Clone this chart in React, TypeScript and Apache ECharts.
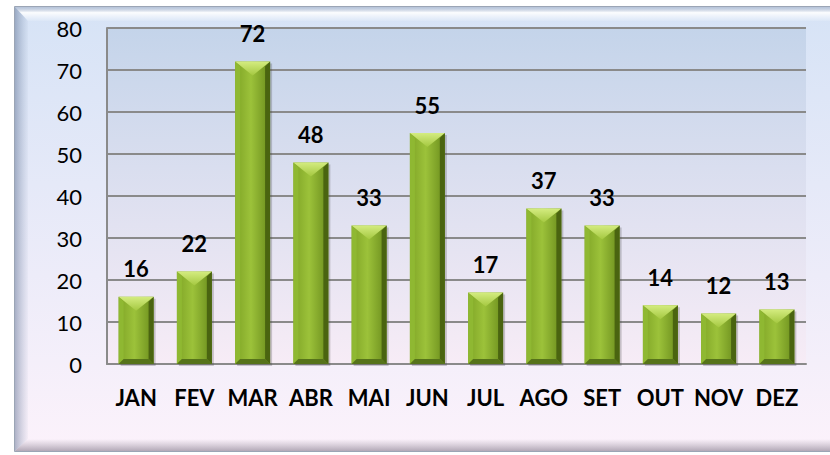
import React, { useEffect, useRef } from "react";
import * as echarts from "echarts";

const categories = ["JAN", "FEV", "MAR", "ABR", "MAI", "JUN", "JUL", "AGO", "SET", "OUT", "NOV", "DEZ"];
const values = [16, 22, 72, 48, 33, 55, 17, 37, 33, 14, 12, 13];
const yMin = 0;
const yMax = 80;
const yInterval = 10;

const FONT = "Lato, 'Open Sans', sans-serif";

export default function App() {
  const ref = useRef<HTMLDivElement>(null);
  useEffect(() => {
    document.body.style.margin = "0";
    const chart = echarts.init(ref.current!, null, { renderer: "svg" });
    const G = echarts.graphic;
    const option: any = {
      animation: false,
      graphic: [
        {
          type: "rect",
          z: -10,
          shape: { x: 14.5, y: 6.5, width: 860, height: 445 },
          style: {
            fill: new G.LinearGradient(0, 0, 0, 1, [
              { offset: 0, color: "#d6e3f6" },
              { offset: 1, color: "#fcf2fb" },
            ]),
            stroke: "#9ba5b5",
            lineWidth: 1,
          },
        },
        {
          type: "polygon",
          z: -9,
          shape: { points: [[15, 7], [860, 7], [860, 21], [28, 21]] },
          style: {
            fill: new G.LinearGradient(0, 0, 0, 1, [
              { offset: 0, color: "rgba(150,165,190,0.5)" },
              { offset: 0.4, color: "rgba(255,255,255,0.9)" },
              { offset: 1, color: "rgba(255,255,255,0.1)" },
            ]),
          },
        },
        {
          type: "polygon",
          z: -9,
          shape: { points: [[15, 7], [28, 21], [28, 439], [15, 451]] },
          style: {
            fill: new G.LinearGradient(0, 0, 1, 0, [
              { offset: 0, color: "rgba(80,100,135,0.45)" },
              { offset: 1, color: "rgba(120,140,170,0.05)" },
            ]),
          },
        },
        {
          type: "polygon",
          z: -9,
          shape: { points: [[15, 451], [28, 439], [860, 439], [860, 451]] },
          style: {
            fill: new G.LinearGradient(0, 0, 0, 1, [
              { offset: 0, color: "rgba(110,100,120,0)" },
              { offset: 1, color: "rgba(90,80,100,0.45)" },
            ]),
          },
        },
      ],
      grid: {
        left: 107,
        right: 24,
        top: 28,
        bottom: 91,
        show: true,
        borderWidth: 0,
        backgroundColor: new G.LinearGradient(0, 0, 0, 1, [
          { offset: 0, color: "#c4d4ea" },
          { offset: 1, color: "#f7ecf6" },
        ]),
      },
      xAxis: {
        type: "category",
        data: categories,
        axisLine: { show: true, lineStyle: { color: "#8a8a8a", width: 2 } },
        axisTick: { show: false },
        axisLabel: {
          interval: 0,
          color: "#000",
          fontFamily: FONT,
          fontWeight: "bold",
          fontSize: 22,
          margin: 22,
        },
      },
      yAxis: {
        type: "value",
        min: yMin,
        max: yMax,
        interval: yInterval,
        axisLine: { show: true, lineStyle: { color: "#8a8a8a", width: 2 } },
        axisTick: { show: false },
        splitLine: { lineStyle: { color: "#8a8a8a", width: 2 } },
        axisLabel: {
          color: "#000",
          fontFamily: FONT,
          fontSize: 22,
          margin: 25,
        },
      },
      series: [
        {
          type: "custom",
          data: values.map((v, i) => [i, v]),
          encode: { x: 0, y: 1 },
          z: 3,
          renderItem: (params: any, api: any) => {
            const idx = api.value(0);
            const val = api.value(1);
            const top = api.coord([idx, val]);
            const base = api.coord([idx, 0]);
            const w = api.size([1, 0])[0] * 0.6;
            const xc = top[0];
            const x0 = xc - w / 2;
            const x1 = xc + w / 2;
            const yt = top[1];
            const yb = base[1];
            const b = 5;
            const tri = Math.min(w * 0.4, (yb - yt) / 2);
            return {
              type: "group",
              children: [
                {
                  type: "rect",
                  shape: { x: x0 + 2, y: yt + 2, width: w, height: yb - yt },
                  style: { fill: "rgba(60,60,60,0.25)" },
                },
                {
                  type: "rect",
                  shape: { x: x0, y: yt, width: w, height: yb - yt },
                  style: {
                    fill: new G.LinearGradient(0, 0, 1, 0, [
                      { offset: 0, color: "#7fa426" },
                      { offset: 0.45, color: "#9cc23a" },
                      { offset: 1, color: "#6a8c1c" },
                    ]),
                  },
                },
                {
                  type: "polygon",
                  shape: { points: [[x0, yt], [x0 + b, yt + b], [x0 + b, yb - b], [x0, yb]] },
                  style: { fill: "#8fb832" },
                },
                {
                  type: "polygon",
                  shape: { points: [[x1, yt], [x1 - b, yt + b], [x1 - b, yb - b], [x1, yb]] },
                  style: { fill: "#4a6410" },
                },
                {
                  type: "polygon",
                  shape: { points: [[x0, yb], [x0 + b, yb - b], [x1 - b, yb - b], [x1, yb]] },
                  style: { fill: "#56731a" },
                },
                {
                  type: "polygon",
                  shape: { points: [[x0, yt], [x1, yt], [xc, yt + tri]] },
                  style: {
                    fill: new G.LinearGradient(0, 0, 0, 1, [
                      { offset: 0, color: "#d4ec80" },
                      { offset: 1, color: "#a4c840" },
                    ]),
                  },
                },
              ],
            };
          },
        },
        {
          type: "bar",
          data: values,
          barWidth: "60%",
          silent: true,
          z: 4,
          itemStyle: { color: "rgba(0,0,0,0)" },
          label: {
            show: true,
            position: "top",
            distance: 17,
            color: "#000",
            fontFamily: FONT,
            fontWeight: "bold",
            fontSize: 22,
          },
        },
      ],
    };
    chart.setOption(option);
    return () => chart.dispose();
  }, []);
  return <div ref={ref} style={{ width: 830, height: 455, position: "absolute", left: 0, top: 0 }} />;
}
